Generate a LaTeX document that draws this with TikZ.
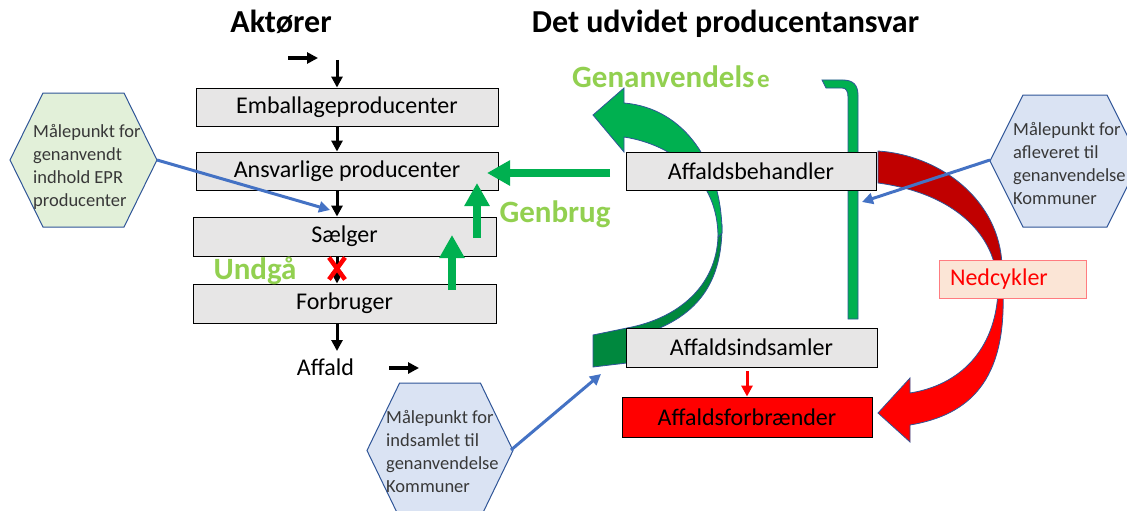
\documentclass[tikz,border=0pt]{standalone}
\usepackage{fontspec}
\setmainfont{Carlito}
\usetikzlibrary{arrows.meta,calc}
\definecolor{boxgray}{RGB}{231,230,230}
\definecolor{ggreen}{RGB}{0,176,80}
\definecolor{dgreen}{RGB}{0,136,62}
\definecolor{lgreen}{RGB}{146,208,80}
\definecolor{dred}{RGB}{192,0,0}
\definecolor{bred}{RGB}{255,0,0}
\definecolor{hexborder}{RGB}{47,85,151}
\definecolor{hexgreen}{RGB}{226,240,217}
\definecolor{hexblue}{RGB}{218,227,243}
\definecolor{blueline}{RGB}{68,114,196}
\definecolor{hextxt}{RGB}{56,56,56}
\definecolor{peach}{RGB}{251,229,214}
\definecolor{salmon}{RGB}{255,124,128}
\tikzset{
 box/.style={draw=black, line width=0.9pt, fill=boxgray, inner sep=0pt, font=\fontsize{24}{28}\selectfont},
 blk/.style={draw=black, line width=3pt, -{Triangle[length=11pt,width=11pt]}},
 garrow/.style={draw=ggreen, line width=7.5pt, -{Triangle[length=23pt,width=24pt]}},
 bluearrow/.style={draw=blueline, line width=3pt, -{Triangle[length=11pt,width=11pt]}},
 hexshape/.style={draw=hexborder, line width=1pt},
 hextext/.style={inner sep=0pt, align=left, text=hextxt, font=\fontsize{18.5}{23}\selectfont, anchor=west},
 curveline/.style={draw=hexborder, line width=0.8pt},
 titletext/.style={font=\bfseries\fontsize{32}{36}\selectfont, anchor=base},
 lgtext/.style={text=lgreen, font=\bfseries\fontsize{31}{34}\selectfont, anchor=base},
}
\begin{document}
\begin{tikzpicture}[x=1pt,y=-1pt]
\useasboundingbox (0,0) rectangle (1127,511);

% big green curved arrow (back face, dark)
\filldraw[curveline, fill=dgreen] (722,226) .. controls (722,280) and (700,312) .. (655,330) -- (627,363) -- (593,367) -- (593,335) -- (627,328) .. controls (680,318) and (716,285) .. (718,237) -- cycle;
% front face with head
\filldraw[curveline, fill=ggreen] (593,115) -- (624,88) -- (624,103) .. controls (685,108) and (722,165) .. (722,233) -- (718,237) .. controls (718,180) and (675,145) .. (624,137) -- (624,152) -- cycle;

% red curved arrow
\filldraw[curveline, fill=dred] (878,151) .. controls (940,155) and (1000,200) .. (1002,266) -- (995,266) .. controls (985,225) and (945,192) .. (878,183) -- cycle;
\filldraw[curveline, fill=bred] (998,292) -- (1003,292) .. controls (1006,380) and (970,415) .. (910,425) -- (910,442) -- (878,413) -- (910,378) -- (910,393) .. controls (960,385) and (995,350) .. (998,292) -- cycle;

% green hook bar
\filldraw[curveline, fill=ggreen] (858,319) -- (858,95) .. controls (858,85) and (853,80) .. (843,80) -- (822,80) -- (826,88) -- (842,88) .. controls (846,88) and (848,91) .. (848,97) -- (848,319) -- cycle;

% boxes
\node[box, minimum width=302pt, minimum height=38pt] (emb) at (347,107) {Emballageproducenter};
\node[box, minimum width=302pt, minimum height=38pt] (ans) at (347,171) {Ansvarlige producenter};
\node[box, minimum width=303pt, minimum height=39pt] (sal) at (344.5,236.5) {Sælger};
\node[box, minimum width=303pt, minimum height=39pt] (forb) at (344.5,303.5) {Forbruger};
\node[box, minimum width=250pt, minimum height=38pt] (beh) at (751,171) {Affaldsbehandler};
\node[box, minimum width=251pt, minimum height=39pt] (ind) at (751.5,347.5) {Affaldsindsamler};
\node[box, fill=bred, minimum width=250pt, minimum height=40pt] (forbr) at (747,417) {Affaldsforbrænder};
\node[draw=salmon, line width=1pt, fill=peach, text=bred, font=\fontsize{24}{28}\selectfont, text width=125pt, inner xsep=11pt, inner ysep=0pt, minimum height=38pt, align=left] (ned) at (1012.5,279) {Nedcykler};

\node[font=\fontsize{24}{28}\selectfont, anchor=base, inner sep=0pt] (affald) at (325.5,375) {Affald};

% black arrows
\coordinate (xcol) at (337,0);
\coordinate (topstart) at (337,60);
\draw[blk] (topstart) -- (emb.north -| xcol);
\draw[blk] (emb.south -| xcol) -- (ans.north -| xcol);
\draw[blk] (ans.south -| xcol) -- (sal.north -| xcol);
\draw[blk] (sal.south -| xcol) -- (forb.north -| xcol);
\coordinate (affaldtip) at (337,351);
\draw[blk] (forb.south -| xcol) -- (affaldtip);
\coordinate (s1a) at (288,58);
\coordinate (s1b) at (318,58);
\draw[blk, line width=3.5pt] (s1a) -- (s1b);
\coordinate (s2a) at (389,368);
\coordinate (s2b) at (419,368);
\draw[blk, line width=3.5pt] (s2a) -- (s2b);

% red arrow between collector and incinerator
\draw[draw=bred, line width=3pt, -{Triangle[length=11pt,width=11pt]}] (ind.south -| forbr.north) ++(0,4) -- (forbr.north);

% red X
\coordinate (xc) at (337,268.5);
\draw[bred, line width=4.5pt] ($(xc)+(-8,-11)$) -- ($(xc)+(8,11)$);
\draw[bred, line width=4.5pt] ($(xc)+(8,-11)$) -- ($(xc)+(-8,11)$);

% green straight arrows (Genbrug)
\coordinate (g1s) at (610,173);
\coordinate (g1e) at (487,173);
\draw[garrow] (g1s) -- (g1e);
\coordinate (g2s) at (477,238);
\coordinate (g2e) at (477,183);
\draw[garrow] (g2s) -- (g2e);
\coordinate (g3s) at (452,290);
\coordinate (g3e) at (452,235);
\draw[garrow] (g3s) -- (g3e);

% hexagons
\draw[hexshape, fill=hexgreen, shift={(83.5,160)}] (-73.5,0) -- (-40.5,-67) -- (40.5,-67) -- (73.5,0) -- (40.5,67) -- (-40.5,67) -- cycle;
\draw[hexshape, fill=hexblue, shift={(1065,161)}] (-75,0) -- (-42,-66) -- (42,-66) -- (75,0) -- (42,66) -- (-42,66) -- cycle;
\draw[hexshape, fill=hexblue, shift={(440,450.5)}] (-73,0) -- (-40.4,-67.5) -- (40.4,-67.5) -- (73,0) -- (40.4,67.5) -- (-40.4,67.5) -- cycle;
\node[hextext] (h1) at (33,167) {Målepunkt for\\genanvendt\\indhold EPR\\producenter};
\node[hextext] (h2) at (1013,164) {Målepunkt for\\afleveret til\\genanvendelse\\Kommuner};
\node[hextext] (h3) at (386,452) {Målepunkt for\\indsamlet til\\genanvendelse\\Kommuner};

% blue measuring arrows
\coordinate (h1r) at (157,160);
\coordinate (h1t) at (330,210);
\draw[bluearrow] (h1r) -- (h1t);
\coordinate (h2l) at (990,160);
\coordinate (h2t) at (862,202);
\draw[bluearrow] (h2l) -- (h2t);
\coordinate (h3r) at (511,450);
\coordinate (h3t) at (601,374);
\draw[bluearrow] (h3r) -- (h3t);

% titles and labels
\node[titletext] (t1) at (281,33) {Aktører};
\node[titletext] (t2) at (725.5,33) {Det udvidet producentansvar};
\node[lgtext, anchor=base west, inner sep=0pt] (gen) at (572,88) {Genanvendels};
\node[lgtext, anchor=base west, inner sep=0pt, font=\bfseries\fontsize{25}{28}\selectfont] (gene) at (757,88) {e};
\node[lgtext] (genbrug) at (555,222) {Genbrug};
\node[lgtext] (undga) at (255,279) {Undgå};
\end{tikzpicture}
\end{document}
